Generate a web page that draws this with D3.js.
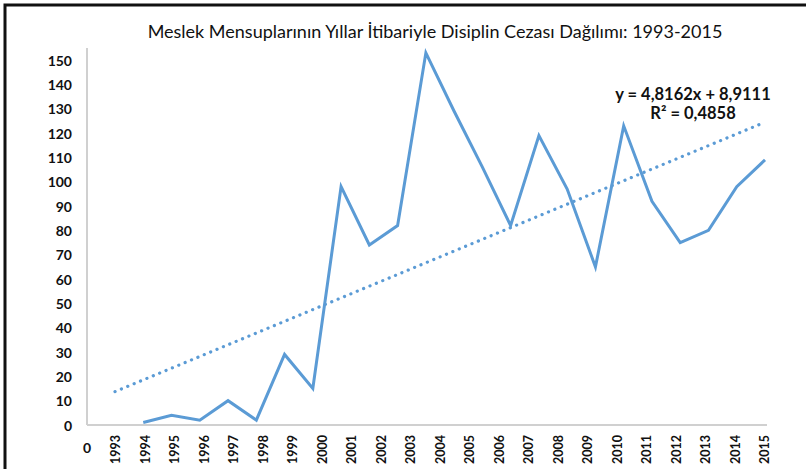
<!DOCTYPE html>
<html>
<head>
<meta charset="utf-8">
<script src="https://cdn.jsdelivr.net/npm/d3@7"></script>
<style>
html,body{margin:0;padding:0;background:#fff;overflow:hidden;}
svg{display:block;}
</style>
</head>
<body>
<svg id="chart" width="806" height="469"></svg>
<script>
// ---- data ----
const title = "Meslek Mensuplarının Yıllar İtibariyle Disiplin Cezası Dağılımı: 1993-2015";
const axisLabels = ["0","1993","1994","1995","1996","1997","1998","1999","2000","2001","2002","2003","2004","2005","2006","2007","2008","2009","2010","2011","2012","2013","2014","2015"];
const values = [1,4,2,10,2,29,15,98,74,82,153,129,106,82,119,97,65,123,92,75,80,98,109];
const valueIndexStart = 2;            // first point sits at x = 2 of the series
const yTicks = [0,10,20,30,40,50,60,70,80,90,100,110,120,130,140,150];
const trendSlope = 4.8162;
const trendIntercept = 8.9111;
const trendRange = [1, 24];
const equationLines = ["y = 4,8162x + 8,9111", "R² = 0,4858"];

// ---- layout ----
const svg = d3.select("#chart");
const plot = {left: 87, right: 767, top: 48, bottom: 425};
const blue = "#5b9bd5";
const axisColor = "#d0d0d0";
const font = "Lato, 'Open Sans', sans-serif";

// frame
svg.append("rect")
  .attr("x", 5).attr("y", 5)
  .attr("width", 900).attr("height", 600)
  .attr("fill", "none").attr("stroke", "#111").attr("stroke-width", 3);

const y = d3.scaleLinear().domain([0, 155]).range([plot.bottom, plot.top]);
const xData = d3.scaleLinear().domain([1, 24]).range([115, 765]);
const xLab = d3.scalePoint().domain(axisLabels).range([87, 765]);

// title
svg.append("text")
  .attr("x", 435).attr("y", 38)
  .attr("text-anchor", "middle")
  .style("font-family", font).style("font-size", "18px")
  .attr("fill", "#111")
  .text(title);

// axes lines
svg.append("line")
  .attr("x1", plot.left).attr("x2", plot.left)
  .attr("y1", plot.top).attr("y2", plot.bottom)
  .attr("stroke", axisColor).attr("stroke-width", 2);
svg.append("line")
  .attr("x1", plot.left).attr("x2", plot.right)
  .attr("y1", plot.bottom).attr("y2", plot.bottom)
  .attr("stroke", axisColor).attr("stroke-width", 2);

// y tick labels via axis
const yAxis = d3.axisLeft(y).tickValues(yTicks).tickSize(0).tickPadding(0);
const gy = svg.append("g").attr("transform", `translate(72,0)`).call(yAxis);
gy.select(".domain").remove();
gy.selectAll("text")
  .style("font-family", font).style("font-size", "14px").style("font-weight", "bold")
  .attr("fill", "#111").attr("dy", "0.36em");

// x labels
const gx = svg.append("g");
gx.selectAll("text.xl")
  .data(axisLabels)
  .enter().append("text")
  .attr("class", "xl")
  .attr("transform", d => d === "0"
     ? `translate(${xLab(d)},453)`
     : `translate(${xLab(d) + 4},435) rotate(-90)`)
  .attr("text-anchor", d => d === "0" ? "middle" : "end")
  .style("font-family", font)
  .style("font-size", d => d === "0" ? "14px" : "12.5px")
  .style("font-weight", "bold")
  .attr("fill", "#111")
  .text(d => d);

// trend line
const trendPts = trendRange.map(k => [k, trendSlope * k + trendIntercept]);
svg.append("path")
  .datum(trendPts)
  .attr("d", d3.line().x(d => xData(d[0])).y(d => y(d[1])))
  .attr("fill", "none").attr("stroke", blue)
  .attr("stroke-width", 3.2).attr("stroke-linecap", "round")
  .attr("stroke-dasharray", "0.1,6.8");

// data line
svg.append("path")
  .datum(values)
  .attr("d", d3.line().x((d, i) => xData(i + valueIndexStart)).y(d => y(d)))
  .attr("fill", "none").attr("stroke", blue)
  .attr("stroke-width", 3).attr("stroke-linejoin", "miter");

// equation
svg.selectAll("text.eq")
  .data(equationLines)
  .enter().append("text")
  .attr("class", "eq")
  .attr("x", 693).attr("y", (d, i) => 100 + i * 19)
  .attr("text-anchor", "middle")
  .style("font-family", font).style("font-size", "16.5px").style("font-weight", "bold")
  .attr("fill", "#111")
  .text(d => d);
</script>
</body>
</html>
